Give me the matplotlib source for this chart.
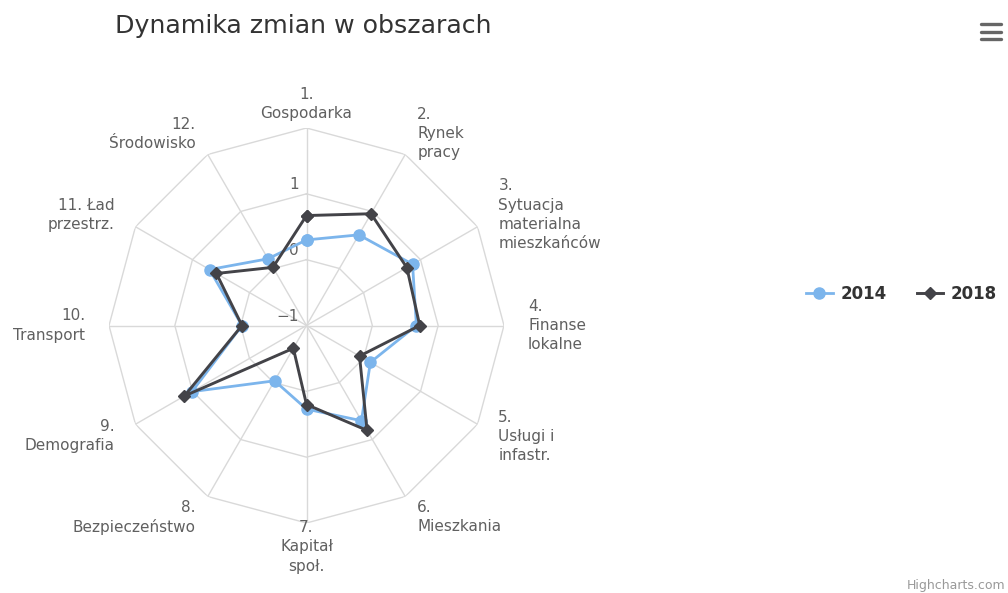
import numpy as np
import matplotlib
matplotlib.use("Agg")
import matplotlib.pyplot as plt
from matplotlib.lines import Line2D

# ============================================================
# DATA
# ============================================================

CATEGORIES = [
    "1.\nGospodarka",
    "2.\nRynek\npracy",
    "3.\nSytuacja\nmaterialna\nmieszkańców",
    "4.\nFinanse\nlokalne",
    "5.\nUsługi i\ninfastr.",
    "6.\nMieszkania",
    "7.\nKapitał\nspoł.",
    "8.\nBezpieczeństwo",
    "9.\nDemografia",
    "10.\nTransport",
    "11. Ład\nprzestrz.",
    "12.\nŚrodowisko",
]

VALUES_2014 = [0.30, 0.59, 0.86, 0.67, 0.12, 0.67, 0.27, -0.03, 1.01, -0.02, 0.70, 0.17]
VALUES_2018 = [0.67, 0.96, 0.76, 0.72, -0.07, 0.84, 0.20, -0.60, 1.14, -0.02, 0.58, 0.02]

SERIES_NAMES = ["2014", "2018"]
RADIAL_TICKS = [-1, 0, 1, 2]
RADIAL_LABELS = ["\u22121", "0", "1"]

TITLE = "Dynamika zmian w obszarach"

# ============================================================
# STYLE
# ============================================================

GRID_COLOR = "#d9d9d9"
LABEL_COLOR = "#606060"
COLOR_2014 = "#7cb5ec"
COLOR_2018 = "#434348"

R_MIN, R_MAX = -1, 2

W, H = 1008, 593
fig = plt.figure(figsize=(W / 100, H / 100), dpi=100)
fig.patch.set_facecolor("white")

cx, cy, rad = 306.5, 325.5, 197.5
ax = fig.add_axes([(cx - rad) / W, (H - cy - rad) / H, 2 * rad / W, 2 * rad / H],
                  projection="polar")
ax.set_theta_zero_location("N")
ax.set_theta_direction(-1)
ax.set_ylim(R_MIN, R_MAX)
ax.grid(False)
ax.set_xticks([])
ax.set_yticks([])
ax.spines["polar"].set_visible(False)
ax.patch.set_alpha(0)

n = len(CATEGORIES)
angles = np.arange(n) * 2 * np.pi / n
closed = np.append(angles, angles[0])

# polygon grid
for v in RADIAL_TICKS[1:]:
    ax.plot(closed, [v] * (n + 1), color=GRID_COLOR, lw=1.0, zorder=1)
for a in angles:
    ax.plot([a, a], [R_MIN, R_MAX], color=GRID_COLOR, lw=1.0, zorder=1)

# radial labels
for v, lab in zip(RADIAL_TICKS[:3], RADIAL_LABELS):
    ax.annotate(lab, xy=(0, v), xytext=(-5.5, 6.5), textcoords="offset points",
                ha="right", va="center", fontsize=11, color=LABEL_COLOR)

# category labels
label_r = R_MAX + 24 / (rad / (R_MAX - R_MIN))
for a, lab in zip(angles, CATEGORIES):
    deg = np.degrees(a) % 360
    if np.isclose(deg, 0) or np.isclose(deg, 180):
        ha = "center"
    elif deg < 180:
        ha = "left"
    else:
        ha = "right"
    ax.text(a, label_r, lab, ha=ha, va="center", multialignment=ha,
            fontsize=11, color=LABEL_COLOR, linespacing=1.35)

# series
v14 = np.append(VALUES_2014, VALUES_2014[0])
v18 = np.append(VALUES_2018, VALUES_2018[0])
l1, = ax.plot(closed, v14, color=COLOR_2014, lw=2.0, marker="o", ms=8,
              zorder=3, label=SERIES_NAMES[0])
l2, = ax.plot(closed, v18, color=COLOR_2018, lw=2.1, marker="D", ms=6.5,
              zorder=4, label=SERIES_NAMES[1])

leg = fig.legend(handles=[l1, l2], loc="center", ncol=2, frameon=False,
                 bbox_to_anchor=(901.5 / W, 1 - 294 / H),
                 prop={"weight": "bold", "size": 12}, handlelength=1.6,
                 handletextpad=0.45, columnspacing=1.8, borderpad=0)
for t in leg.get_texts():
    t.set_color("#333333")

fig.text(303 / W, 1 - 26 / H, TITLE, ha="center", va="center",
         fontsize=18.2, color="#333333")
fig.text(1005 / W, 1 - 586 / H, "Highcharts.com", ha="right", va="center",
         fontsize=9, color="#999999")

# menu icon
for y in [24, 31.5, 39]:
    fig.add_artist(Line2D([981 / W, 1001 / W], [1 - y / H, 1 - y / H],
                          color="#666666", lw=2.4, solid_capstyle="round"))

fig.savefig("out.png", dpi=100)
